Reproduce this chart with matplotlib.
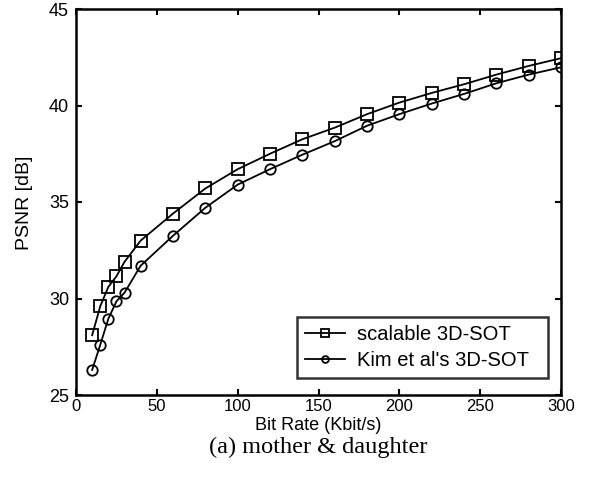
import matplotlib
matplotlib.use("Agg")
import matplotlib.pyplot as plt

rate = [10, 15, 20, 25, 30, 40, 60, 80, 100, 120, 140, 160, 180, 200, 220, 240, 260, 280, 300]
scalable = [28.1, 29.6, 30.6, 31.15, 31.9, 33.0, 34.4, 35.7, 36.7, 37.5, 38.25, 38.85, 39.55, 40.15, 40.65, 41.1, 41.6, 42.05, 42.45]
kim = [26.3, 27.6, 28.95, 29.85, 30.3, 31.7, 33.25, 34.7, 35.9, 36.7, 37.45, 38.15, 38.95, 39.55, 40.1, 40.6, 41.15, 41.6, 41.98]
xticks = [0, 50, 100, 150, 200, 250, 300]
yticks = [25, 30, 35, 40, 45]

plt.rcParams['font.family'] = ['Liberation Sans', 'DejaVu Sans']
fig = plt.figure(figsize=(5.89, 4.79), dpi=100)
ax = fig.add_axes([76/589, 1 - 395/479, (561-76)/589, (395-9)/479])

ax.plot(rate, scalable, color='black', lw=1.3, marker='s', ms=8, mfc='none', mec='black', mew=1.3, label='scalable 3D-SOT')
ax.plot(rate, kim, color='black', lw=1.3, marker='o', ms=7.5, mfc='none', mec='black', mew=1.3, label="Kim et al's 3D-SOT")

ax.set_xlim(0, 300)
ax.set_ylim(25, 45)
ax.set_xticks(xticks)
ax.set_yticks(yticks)
ax.tick_params(direction='in', top=True, right=True, length=4, width=1.5, labelsize=13, pad=5)
ax.tick_params(axis='x', labelsize=12, pad=3)
for s in ax.spines.values():
    s.set_linewidth(1.8)
    s.set_clip_on(False)

ax.set_xlabel('Bit Rate (Kbit/s)', fontsize=13, va='center')
ax.xaxis.set_label_coords(0.5*(76+561)/589 + 0.0, 1 - 426/479, transform=fig.transFigure)
ax.set_ylabel('PSNR [dB]', fontsize=14, va='center')
ax.yaxis.set_label_coords(24.5/589, 1 - 203/479, transform=fig.transFigure)

leg = ax.legend(loc='lower left', bbox_to_anchor=(297/589, 1 - 378/479, 251/589, 60/479), bbox_transform=fig.transFigure,
                mode='expand', fontsize=14.5, frameon=True, fancybox=False, edgecolor='black', handlelength=2.0,
                markerscale=0.65, borderpad=0.4, labelspacing=0.35, handletextpad=0.6, borderaxespad=0)
leg.get_frame().set_linewidth(1.8)

fig.text(0.5*(76+561)/589, 1 - 447/479, '(a) mother & daughter', ha='center', va='center',
         fontsize=17.5, family=['Liberation Serif', 'DejaVu Serif'])

fig.savefig('out.png', dpi=100)
